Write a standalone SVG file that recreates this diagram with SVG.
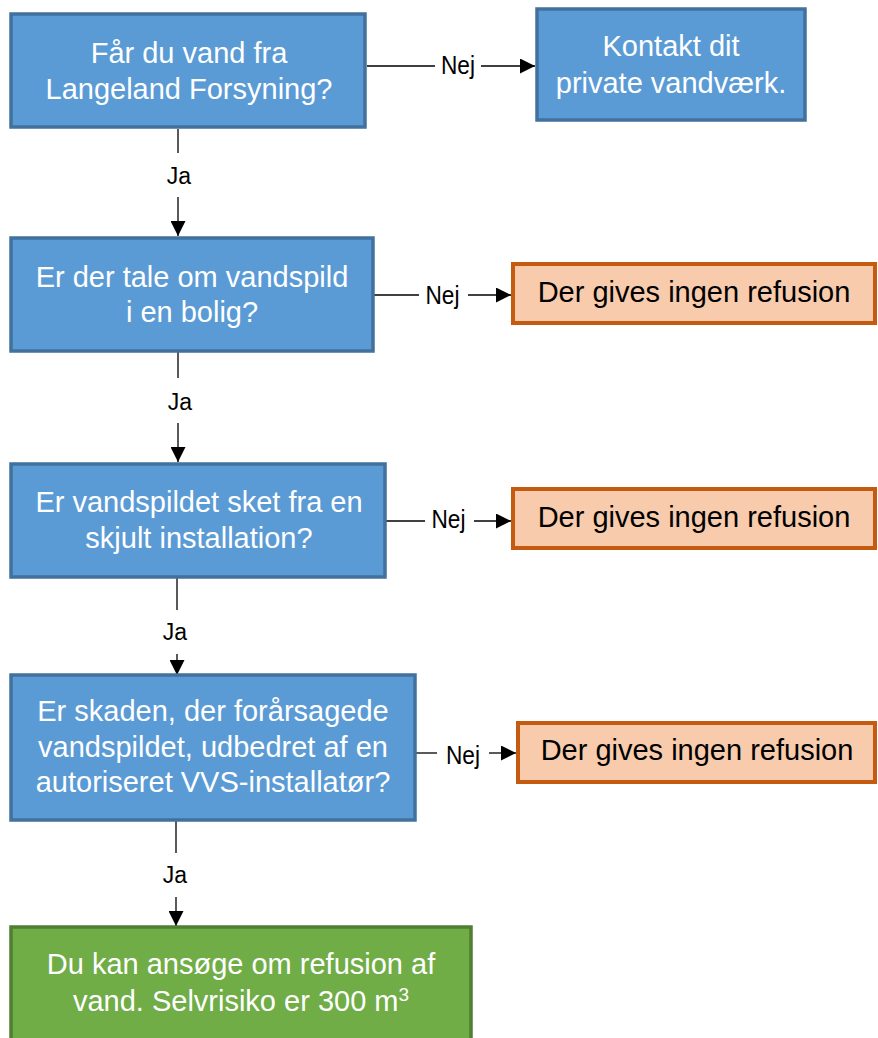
<svg xmlns="http://www.w3.org/2000/svg" width="878" height="1038" viewBox="0 0 878 1038">
<style>
.blue{fill:#5B9BD5;stroke:#41719C;stroke-width:3.5}
.orange{fill:#F8CBAD;stroke:#C55A11;stroke-width:4}
.green{fill:#70AD47;stroke:#507E32;stroke-width:3.5}
.wt{font-family:"Liberation Sans",Arial,sans-serif;font-size:29px;fill:#fff;text-anchor:middle}
.bt{font-family:"Liberation Sans",Arial,sans-serif;font-size:29px;fill:#000;text-anchor:middle}
.lbl{font-family:"Liberation Sans",Arial,sans-serif;font-size:26px;fill:#000;text-anchor:middle}
.ja{font-family:"Liberation Sans",Arial,sans-serif;font-size:23px;fill:#000;text-anchor:middle}
.ln{stroke:#000;stroke-width:1.3;fill:none}
</style>
<defs>
<marker id="ah" markerUnits="userSpaceOnUse" markerWidth="15" markerHeight="15" refX="15" refY="7.5" orient="auto" viewBox="0 0 15 15">
<path d="M0,0 L15,7.5 L0,15 Z" fill="#000"/>
</marker>
</defs>
<g id="connectors">
<line class="ln" x1="367" y1="66" x2="435" y2="66"/>
<text class="lbl" x="458" y="74" textLength="34" lengthAdjust="spacingAndGlyphs">Nej</text>
<line class="ln" x1="481" y1="66" x2="535" y2="66" marker-end="url(#ah)"/>
<line class="ln" x1="178" y1="129" x2="178" y2="153"/>
<text class="ja" x="179" y="184">Ja</text>
<line class="ln" x1="178" y1="197" x2="178" y2="236" marker-end="url(#ah)"/>
<line class="ln" x1="374" y1="295" x2="419" y2="295"/>
<text class="lbl" x="442.5" y="304" textLength="34" lengthAdjust="spacingAndGlyphs">Nej</text>
<line class="ln" x1="468" y1="295" x2="511" y2="295" marker-end="url(#ah)"/>
<line class="ln" x1="178" y1="352" x2="178" y2="378"/>
<text class="ja" x="180" y="410">Ja</text>
<line class="ln" x1="178" y1="423" x2="178" y2="462" marker-end="url(#ah)"/>
<line class="ln" x1="386" y1="521" x2="425" y2="521"/>
<text class="lbl" x="448.5" y="528" textLength="34" lengthAdjust="spacingAndGlyphs">Nej</text>
<line class="ln" x1="474" y1="521" x2="511" y2="521" marker-end="url(#ah)"/>
<line class="ln" x1="177" y1="578" x2="177" y2="610"/>
<text class="ja" x="175" y="640">Ja</text>
<line class="ln" x1="177" y1="654" x2="177" y2="675" marker-end="url(#ah)"/>
<line class="ln" x1="416" y1="753" x2="437" y2="753"/>
<text class="lbl" x="463" y="764" textLength="34" lengthAdjust="spacingAndGlyphs">Nej</text>
<line class="ln" x1="489" y1="753" x2="516" y2="753" marker-end="url(#ah)"/>
<line class="ln" x1="176" y1="821" x2="176" y2="853"/>
<text class="ja" x="175" y="883">Ja</text>
<line class="ln" x1="176" y1="897" x2="176" y2="926" marker-end="url(#ah)"/>
</g>
<g id="q1">
<rect class="blue" x="11" y="14" width="354" height="113"/>
<text class="wt" x="189" y="63">Får du vand fra</text>
<text class="wt" x="189" y="99">Langeland Forsyning?</text>
</g>
<g id="private">
<rect class="blue" x="537" y="9" width="268" height="111"/>
<text class="wt" x="671" y="56">Kontakt dit</text>
<text class="wt" x="671" y="93">private vandværk.</text>
</g>
<g id="q2">
<rect class="blue" x="11" y="238" width="362" height="113"/>
<text class="wt" x="192" y="287">Er der tale om vandspild</text>
<text class="wt" x="192" y="322">i en bolig?</text>
</g>
<g id="no1">
<rect class="orange" x="513" y="264" width="362" height="59"/>
<text class="bt" x="694" y="302">Der gives ingen refusion</text>
</g>
<g id="q3">
<rect class="blue" x="11" y="464" width="374" height="113"/>
<text class="wt" x="199" y="512">Er vandspildet sket fra en</text>
<text class="wt" x="199" y="548">skjult installation?</text>
</g>
<g id="no2">
<rect class="orange" x="513" y="489" width="362" height="59"/>
<text class="bt" x="694" y="527">Der gives ingen refusion</text>
</g>
<g id="q4">
<rect class="blue" x="11" y="675" width="404" height="145"/>
<text class="wt" x="213" y="721">Er skaden, der forårsagede</text>
<text class="wt" x="213" y="757">vandspildet, udbedret af en</text>
<text class="wt" x="213" y="792">autoriseret VVS-installatør?</text>
</g>
<g id="no3">
<rect class="orange" x="518" y="723" width="357" height="59"/>
<text class="bt" x="697" y="760">Der gives ingen refusion</text>
</g>
<g id="yes">
<rect class="green" x="11" y="927" width="460" height="125"/>
<text class="wt" x="241" y="974">Du kan ansøge om refusion af</text>
<text class="wt" x="241" y="1011">vand. Selvrisiko er 300 m<tspan font-size="19" dy="-10">3</tspan></text>
</g>
</svg>
